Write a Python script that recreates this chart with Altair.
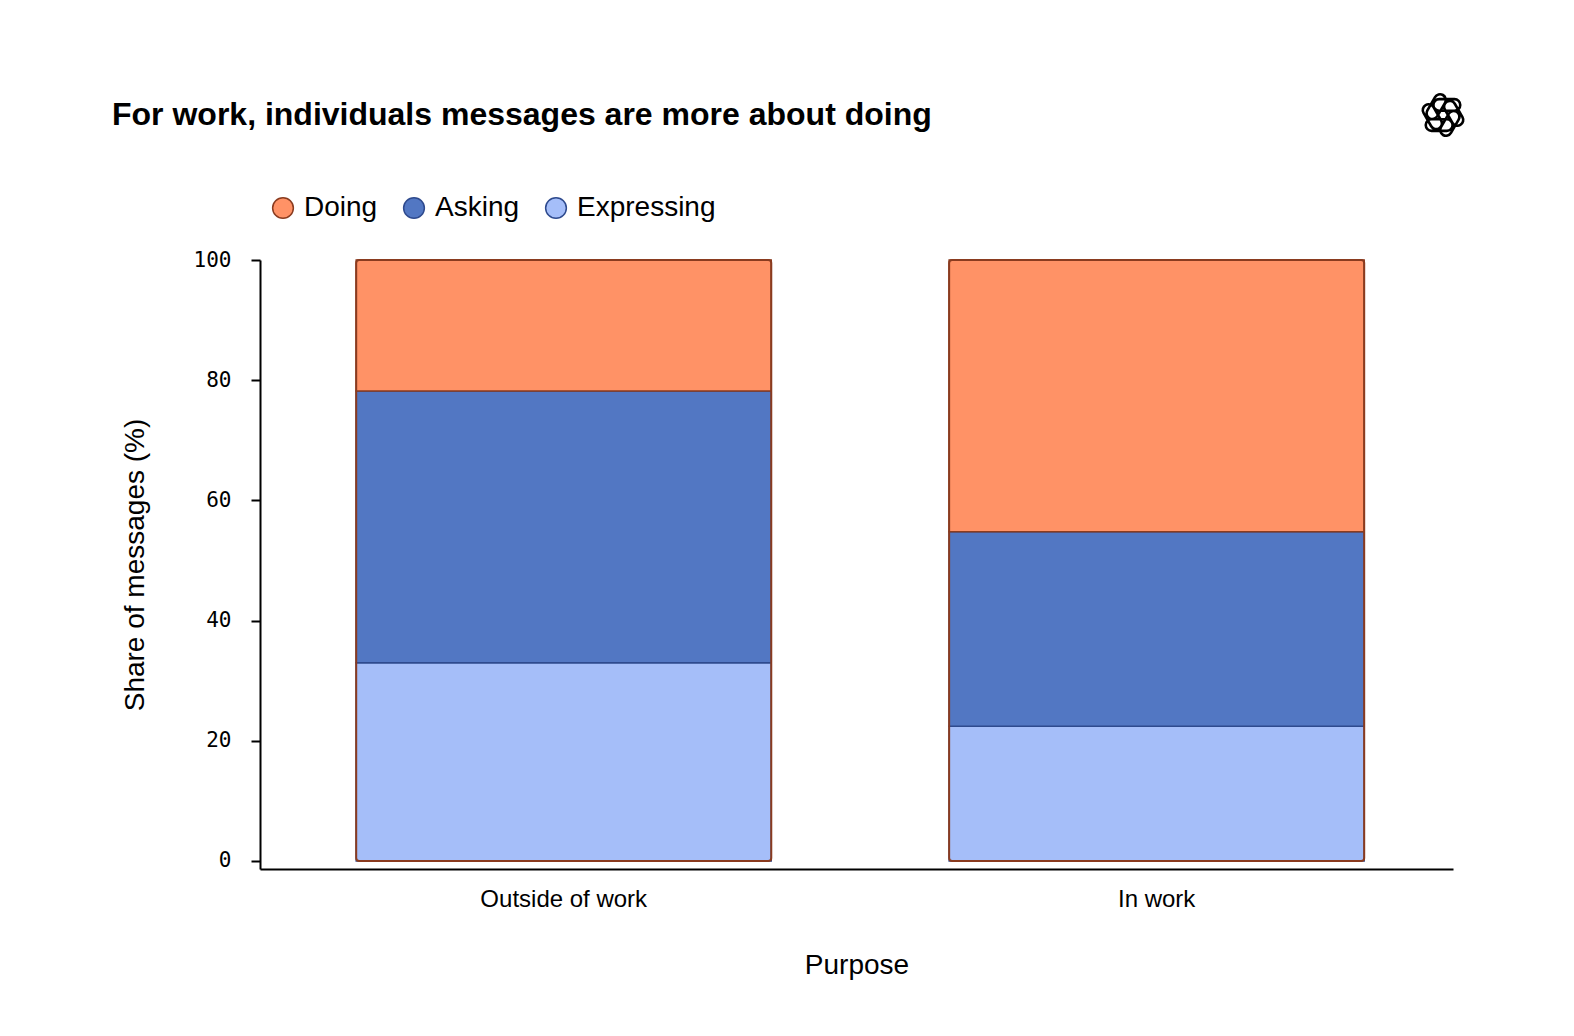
import math
import altair as alt
import pandas as pd

purposes = ["Outside of work", "In work"]
categories = ["Doing", "Asking", "Expressing"]
doing = [21.8, 45.2]
asking = [45.2, 32.4]
expressing = [33.0, 22.4]
y_ticks = [0, 20, 40, 60, 80, 100]

fills = ["#FF9266", "#5277C3", "#A5BEF9"]
strokes = ["#8A3B1F", "#2E4A8E", "#2E4A8E"]
stack_rank = {"Expressing": 0, "Asking": 1, "Doing": 2}

rows = []
for i, p in enumerate(purposes):
    for cat, vals in (("Expressing", expressing), ("Asking", asking), ("Doing", doing)):
        rows.append({"Purpose": p, "Category": cat, "Share": vals[i], "rank": stack_rank[cat]})
df = pd.DataFrame(rows)
totals = pd.DataFrame({"Purpose": purposes,
                       "Total": [doing[i] + asking[i] + expressing[i] for i in range(len(purposes))]})

# decorative logo shape: six rounded links arranged as a pinwheel knot
def logo_path():
    parts = []
    cx, cy, L, r = 0.16, -0.42, 0.32, 0.24
    base = [(cx - L, cy - r), (cx + L, cy - r), (cx + L, cy + r), (cx - L, cy + r)]
    for k in range(6):
        a = math.radians(60 * k)
        pts = [(x * math.cos(a) - y * math.sin(a), x * math.sin(a) + y * math.cos(a)) for x, y in base]
        f = lambda p: f"{p[0]:.3f} {p[1]:.3f}"
        parts.append(f"M {f(pts[0])} L {f(pts[1])} A {r} {r} 0 0 1 {f(pts[2])} "
                     f"L {f(pts[3])} A {r} {r} 0 0 1 {f(pts[0])} Z")
    return " ".join(parts)

legend_cfg = dict(title=None, orient="none", legendX=9, legendY=-66,
                  direction="horizontal", symbolType="circle", symbolSize=430,
                  symbolStrokeWidth=1.5, labelFontSize=28,
                  labelFont="Liberation Sans", labelColor="black",
                  columnPadding=22, labelOffset=7, padding=0)

x_enc = alt.X("Purpose:N", sort=purposes,
              scale=alt.Scale(paddingInner=0.3, paddingOuter=0.156, align=0.52),
              axis=alt.Axis(title="Purpose", labelAngle=0, ticks=False, labelPadding=18,
                            labelFontSize=24, titleFontSize=28, titlePadding=40,
                            labelFont="Liberation Sans", titleFont="Liberation Sans",
                            titleFontWeight="normal", labelColor="black", titleColor="black",
                            domainColor="black", domainWidth=2))
y_scale = alt.Scale(domain=[-1.34, 100], nice=False, zero=False)

bars = alt.Chart(df).mark_bar(strokeWidth=1.5).encode(
    x=x_enc,
    y=alt.Y("Share:Q", stack="zero", scale=y_scale,
            axis=alt.Axis(title="Share of messages (%)", values=y_ticks, tickSize=9, tickWidth=2,
                          tickColor="black", labelPadding=20, labelFontSize=21,
                          labelFont="DejaVu Sans Mono", labelColor="black",
                          titleFont="Liberation Sans", titleFontSize=28, titleFontWeight="normal",
                          titleColor="black", titlePadding=44, grid=False,
                          domainColor="black", domainWidth=2)),
    fill=alt.Fill("Category:N", scale=alt.Scale(domain=categories, range=fills),
                  legend=alt.Legend(**legend_cfg)),
    stroke=alt.Stroke("Category:N", scale=alt.Scale(domain=categories, range=strokes),
                      legend=alt.Legend(**legend_cfg)),
    order=alt.Order("rank:Q", sort="ascending"),
)

outline = alt.Chart(totals).mark_bar(fillOpacity=0, stroke="#8A3B1F", strokeWidth=2,
                                     cornerRadius=3).encode(
    x=alt.X("Purpose:N", sort=purposes),
    y=alt.Y("Total:Q", scale=y_scale),
    y2=alt.datum(0),
)

logo = alt.Chart(totals.head(1)).mark_point(shape=logo_path(), size=2300, filled=False,
                                            stroke="black", strokeWidth=2.6, opacity=1).encode(
    x=alt.value(1183), y=alt.value(-145)
)

chart = alt.layer(bars, outline, logo).properties(
    width=1193, height=609,
    autosize=alt.AutoSizeParams(type="none"),
    padding={"left": 252, "top": 252, "right": 60, "bottom": 120},
    title=alt.TitleParams("For work, individuals messages are more about doing",
                          anchor="start", frame="group", dx=-148, dy=47, fontSize=32,
                          font="Liberation Sans", fontWeight="bold", color="black"),
).configure(background="white").configure_view(stroke="transparent", strokeWidth=0)

chart.save("out.html", embed_options={"renderer": "svg", "actions": False})
